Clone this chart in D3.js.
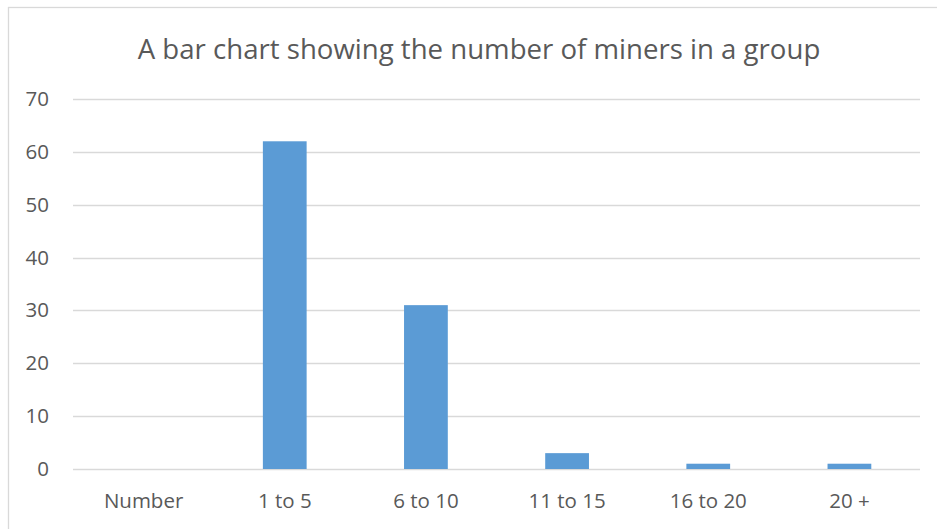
<!DOCTYPE html>
<html>
<head>
<meta charset="utf-8">
<script src="https://cdn.jsdelivr.net/npm/d3@7"></script>
<style>
  body { margin: 0; background: #fff; }
  svg { display: block; }
</style>
</head>
<body>
<svg id="chart" width="937" height="529"></svg>
<script>
// chart data
var categories = ["Number", "1 to 5", "6 to 10", "11 to 15", "16 to 20", "20 +"];
var counts = [0, 62, 31, 3, 1, 1];
var yTicks = [0, 10, 20, 30, 40, 50, 60, 70];
var chartTitle = "A bar chart showing the number of miners in a group";

var svg = d3.select("#chart");
var font = "'Open Sans', 'Noto Sans', sans-serif";
var textColour = "#595959";

var margin = {left: 73, right: 17, top: 99, bottom: 60};
var width = 937 - margin.left - margin.right;
var height = 529 - margin.top - margin.bottom;

// outer chart border (runs off the right and bottom of the picture)
svg.append("rect")
    .attr("x", 8.5).attr("y", 7.5)
    .attr("width", 940).attr("height", 540)
    .attr("fill", "#fff")
    .attr("stroke", "#d9d9d9")
    .attr("stroke-width", 1.3);

svg.append("text")
    .attr("x", 479).attr("y", 59)
    .attr("text-anchor", "middle")
    .attr("font-family", font)
    .attr("font-size", 27.6)
    .attr("fill", textColour)
    .text(chartTitle);

var g = svg.append("g")
    .attr("transform", "translate(" + margin.left + "," + margin.top + ")");

var x = d3.scaleBand().domain(categories).range([0, width]).paddingInner(0.69).paddingOuter(0.345);
var y = d3.scaleLinear().domain([0, 70]).range([height, 0]);

// gridlines
g.selectAll(".grid").data(yTicks).enter()
    .append("line")
    .attr("class", "grid")
    .attr("x1", 0).attr("x2", width)
    .attr("y1", function(d) { return Math.round(y(d)) + 0.5; })
    .attr("y2", function(d) { return Math.round(y(d)) + 0.5; })
    .attr("stroke", "#d9d9d9")
    .attr("stroke-width", 1.3);

// y tick labels
var yAxis = g.append("g")
    .call(d3.axisLeft(y).tickValues(yTicks).tickSize(0).tickPadding(24));
yAxis.select(".domain").remove();
yAxis.selectAll("text")
    .attr("font-family", font)
    .attr("font-size", 20.5)
    .attr("fill", textColour);

// bars
g.selectAll(".bar").data(counts).enter()
    .append("rect")
    .attr("class", "bar")
    .attr("x", function(d, i) { return x(categories[i]); })
    .attr("width", x.bandwidth())
    .attr("y", function(d) { return y(d); })
    .attr("height", function(d) { return height - y(d); })
    .attr("fill", "#5b9bd5");

// x category labels
var xAxis = g.append("g")
    .attr("transform", "translate(0," + height + ")")
    .call(d3.axisBottom(x).tickSize(0).tickPadding(24));
xAxis.select(".domain").remove();
xAxis.selectAll("text")
    .attr("font-family", font)
    .attr("font-size", 20.5)
    .attr("fill", textColour);
</script>
</body>
</html>
